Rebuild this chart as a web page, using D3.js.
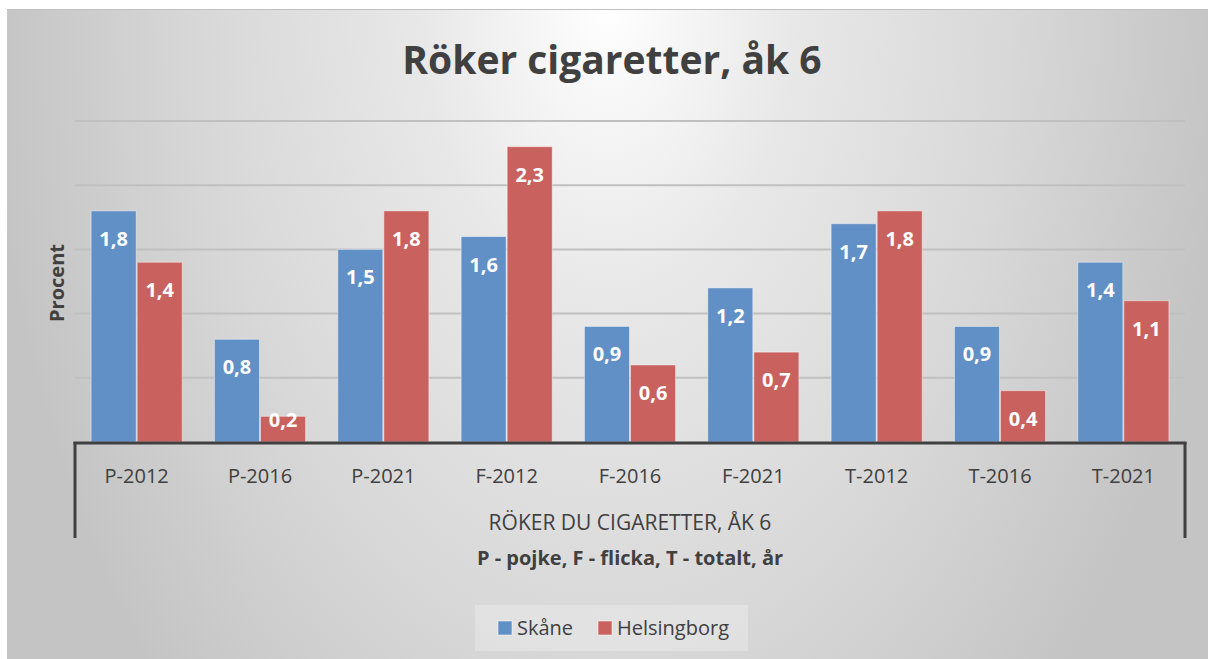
<!DOCTYPE html>
<html>
<head>
<meta charset="utf-8">
<script src="https://cdn.jsdelivr.net/npm/d3@7"></script>
<style>
  body { margin: 0; background: #ffffff; }
  text { font-family: "Open Sans", "Noto Sans", sans-serif; }
</style>
</head>
<body>
<div id="chart"></div>
<script>
var categories = ["P-2012", "P-2016", "P-2021", "F-2012", "F-2016", "F-2021", "T-2012", "T-2016", "T-2021"];
var seriesNames = ["Skåne", "Helsingborg"];
var skane = [1.8, 0.8, 1.5, 1.6, 0.9, 1.2, 1.7, 0.9, 1.4];
var helsingborg = [1.4, 0.2, 1.8, 2.3, 0.6, 0.7, 1.8, 0.4, 1.1];
var gridValues = [0.5, 1.0, 1.5, 2.0, 2.5];
var colors = ["#6190c6", "#c9625e"];

var svgWidth = 1212;
var svgHeight = 659;

var plot = { left: 75, right: 1185, top: 121, bottom: 442 };

var svg = d3.select("#chart")
  .append("svg")
  .attr("width", svgWidth)
  .attr("height", svgHeight);

// background gradient
var defs = svg.append("defs");
var grad = defs.append("radialGradient")
  .attr("id", "bg")
  .attr("gradientUnits", "userSpaceOnUse")
  .attr("cx", 608).attr("cy", 0).attr("r", 620)
  .attr("gradientTransform", "translate(608,0) scale(1,1.6) translate(-608,0)");
grad.append("stop").attr("offset", "0").attr("stop-color", "#ffffff");
grad.append("stop").attr("offset", "0.3").attr("stop-color", "#e8e8e8");
grad.append("stop").attr("offset", "0.65").attr("stop-color", "#d8d8d8");
grad.append("stop").attr("offset", "1").attr("stop-color", "#c4c4c4");

svg.append("rect")
  .attr("x", 7).attr("y", 9)
  .attr("width", 1201).attr("height", 650)
  .attr("fill", "url(#bg)");
svg.append("line")
  .attr("x1", 7).attr("x2", 1208).attr("y1", 9.5).attr("y2", 9.5)
  .attr("stroke", "#c0c0c0").attr("stroke-width", 1);

var data = categories.map(function(c, i) {
  return { cat: c, values: [skane[i], helsingborg[i]] };
});

var x0 = d3.scaleBand()
  .domain(categories)
  .range([plot.left, plot.right]);

var x1 = d3.scaleBand()
  .domain([0, 1])
  .range([15.6, x0.bandwidth() - 15.6]);

var y = d3.scaleLinear()
  .domain([0, 2.5])
  .range([plot.bottom, plot.top]);

// gridlines
svg.append("g")
  .selectAll("line")
  .data(gridValues)
  .enter()
  .append("line")
  .attr("x1", plot.left)
  .attr("x2", plot.right)
  .attr("y1", d => y(d))
  .attr("y2", d => y(d))
  .attr("stroke", "#c0c0c0")
  .attr("stroke-width", 2);

// bars
var groups = svg.append("g")
  .selectAll("g")
  .data(data)
  .enter()
  .append("g")
  .attr("transform", d => `translate(${x0(d.cat)},0)`);

groups.selectAll("rect")
  .data(d => d.values)
  .enter()
  .append("rect")
  .attr("x", (d, i) => x1(i) + 0.5)
  .attr("y", d => y(d))
  .attr("width", x1.bandwidth() - 1)
  .attr("height", d => plot.bottom - y(d))
  .attr("fill", (d, i) => colors[i])
  .attr("stroke", "rgba(255,255,255,0.45)")
  .attr("stroke-width", 1);

groups.selectAll("text")
  .data(d => d.values)
  .enter()
  .append("text")
  .attr("x", (d, i) => x1(i) + x1.bandwidth() / 2)
  .attr("y", d => Math.min(y(d) + 28, plot.bottom - 22))
  .attr("dy", "0.35em")
  .attr("text-anchor", "middle")
  .attr("fill", "#ffffff")
  .attr("font-size", "20px")
  .attr("font-weight", "bold")
  .text(d => String(d.toFixed(1)).replace(".", ","));

// category axis
var bottomAxis = d3.axisBottom(x0).tickSize(0).tickPadding(0);
var axisG = svg.append("g")
  .attr("transform", `translate(0, ${plot.bottom})`)
  .call(bottomAxis);
axisG.select(".domain").remove();
axisG.selectAll("text")
  .attr("y", 41)
  .attr("dy", 0)
  .attr("font-size", "20px")
  .attr("font-family", "'Open Sans', sans-serif")
  .attr("fill", "#404040");

var axisColor = "#404040";
svg.append("line")
  .attr("x1", plot.left - 1.5).attr("x2", plot.right + 1.5)
  .attr("y1", plot.bottom + 1).attr("y2", plot.bottom + 1)
  .attr("stroke", axisColor).attr("stroke-width", 3);
[plot.left, plot.right].forEach(function(xp) {
  svg.append("line")
    .attr("x1", xp).attr("x2", xp)
    .attr("y1", plot.bottom).attr("y2", 538)
    .attr("stroke", axisColor).attr("stroke-width", 3);
});

svg.append("text")
  .attr("x", (plot.left + plot.right) / 2)
  .attr("y", 530)
  .attr("text-anchor", "middle")
  .attr("font-size", "21px")
  .attr("fill", "#404040")
  .text("RÖKER DU CIGARETTER, ÅK 6");

svg.append("text")
  .attr("x", (plot.left + plot.right) / 2)
  .attr("y", 565)
  .attr("text-anchor", "middle")
  .attr("font-size", "20px")
  .attr("font-weight", "bold")
  .attr("fill", "#404040")
  .text("P - pojke, F - flicka, T - totalt, år");

// y axis title
svg.append("text")
  .attr("transform", "translate(64, 283) rotate(-90)")
  .attr("text-anchor", "middle")
  .attr("font-size", "20px")
  .attr("font-weight", "bold")
  .attr("fill", "#404040")
  .text("Procent");

// title
svg.append("text")
  .attr("x", 612)
  .attr("y", 74)
  .attr("text-anchor", "middle")
  .attr("font-size", "39px")
  .attr("font-weight", "bold")
  .attr("fill", "#404040")
  .text("Röker cigaretter, åk 6");

// legend
var legend = svg.append("g");
legend.append("rect")
  .attr("x", 475).attr("y", 605)
  .attr("width", 273).attr("height", 46)
  .attr("fill", "rgba(255,255,255,0.25)");
var legendX = [498, 598];
seriesNames.forEach(function(name, i) {
  legend.append("rect")
    .attr("x", legendX[i]).attr("y", 621)
    .attr("width", 14).attr("height", 14)
    .attr("fill", colors[i])
    .attr("stroke", "rgba(255,255,255,0.5)");
  legend.append("text")
    .attr("x", legendX[i] + 19)
    .attr("y", 635)
    .attr("font-size", "20px")
    .attr("fill", "#404040")
    .text(name);
});
</script>
</body>
</html>
